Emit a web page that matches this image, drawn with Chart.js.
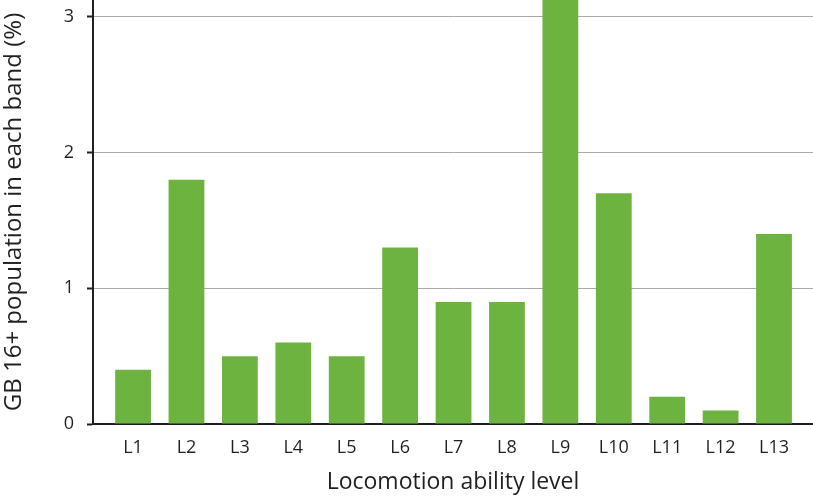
<!DOCTYPE html>
<html>
<head>
<meta charset="utf-8">
<script src="https://cdn.jsdelivr.net/npm/chart.js@4"></script>
<style>
  html, body { margin: 0; padding: 0; background: #fff; }
  #wrap { width: 813px; height: 496px; }
</style>
</head>
<body>
<div id="wrap"><canvas id="locoChart" width="813" height="496"></canvas></div>
<script>
// locomotion bands and share of GB 16+ population (%)
var levels = ['L1', 'L2', 'L3', 'L4', 'L5', 'L6', 'L7', 'L8', 'L9', 'L10', 'L11', 'L12', 'L13'];
var populationPct = [0.4, 1.8, 0.5, 0.6, 0.5, 1.3, 0.9, 0.9, 3.3, 1.7, 0.2, 0.1, 1.4];
var yTicks = [0, 1, 2, 3];

var fontFamily = "'Open Sans', 'Noto Sans', sans-serif";
var dark = '#231f20';

var points = levels.map(function(l, i) {
    return { x: i + 1, y: populationPct[i] };
});

function noEdgePadding(scale) {
    scale.paddingTop = 0;
    scale.paddingBottom = 0;
    scale.paddingLeft = 0;
    scale.paddingRight = 0;
}

var locoChart = new Chart(document.getElementById('locoChart').getContext('2d'), {
    type: 'bar',
    data: {
        datasets: [{
            label: 'GB 16+ population',
            data: points,
            backgroundColor: '#6db33f',
            borderWidth: 0,
            barPercentage: 0.67,
            categoryPercentage: 1
        }]
    },
    options: {
        responsive: false,
        animation: false,
        layout: { padding: 0 },
        plugins: {
            legend: { display: false },
            tooltip: { enabled: false }
        },
        scales: {
            x: {
                type: 'linear',
                offset: false,
                min: 0.25,
                max: 13.73,
                grid: { display: false, drawTicks: false },
                border: { display: true, color: dark, width: 2 },
                afterBuildTicks: function(scale) {
                    scale.ticks = levels.map(function(l, i) { return { value: i + 1 }; });
                },
                afterFit: function(scale) {
                    scale.height = 72;
                    noEdgePadding(scale);
                },
                ticks: {
                    padding: 13,
                    color: dark,
                    font: { family: fontFamily, size: 18 },
                    maxRotation: 0,
                    autoSkip: false,
                    callback: function(v) { return levels[v - 1]; }
                },
                title: {
                    display: true,
                    text: 'Locomotion ability level',
                    color: dark,
                    font: { family: fontFamily, size: 23 },
                    padding: { top: 0, bottom: 0 }
                }
            },
            y: {
                min: 0,
                max: 3.125,
                afterBuildTicks: function(scale) {
                    scale.ticks = yTicks.map(function(v) { return { value: v }; });
                },
                afterFit: function(scale) {
                    scale.width = 93;
                    noEdgePadding(scale);
                },
                grid: {
                    color: '#a7a9ac',
                    lineWidth: 1,
                    tickColor: dark,
                    tickLength: 6,
                    tickWidth: 2
                },
                border: { display: true, color: dark, width: 2 },
                ticks: {
                    padding: 13,
                    color: dark,
                    font: { family: fontFamily, size: 18 }
                },
                title: {
                    display: true,
                    text: 'GB 16+ population in each band (%)',
                    color: dark,
                    font: { family: fontFamily, size: 24 },
                    padding: { top: 0, bottom: 0 }
                }
            }
        }
    }
});
</script>
</body>
</html>
